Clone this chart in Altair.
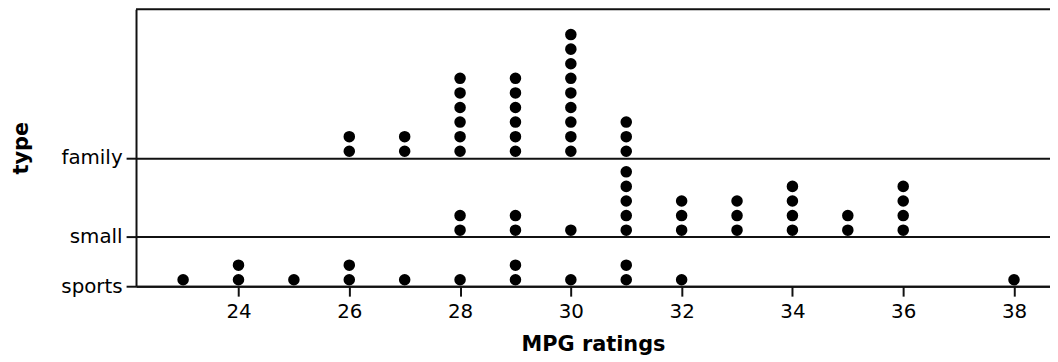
import altair as alt
import pandas as pd

# MPG ratings per car type (one entry per dot)
family_mpg = [26, 26, 27, 27, 28, 28, 28, 28, 28, 28, 29, 29, 29, 29, 29, 29,
              30, 30, 30, 30, 30, 30, 30, 30, 30, 31, 31, 31]
small_mpg = [28, 28, 29, 29, 30, 31, 31, 31, 31, 31, 32, 32, 32, 33, 33, 33,
             34, 34, 34, 34, 35, 35, 36, 36, 36, 36]
sports_mpg = [23, 24, 24, 25, 26, 26, 27, 28, 29, 29, 30, 31, 31, 32, 38]

types = ["family", "small", "sports"]
x_ticks = [24, 26, 28, 30, 32, 34, 36, 38]

# layout of the stacked rows (in y-scale units)
baseline = {"sports": 0, "small": 50, "family": 129.5}
first_offset = 6.5
step = 14.7

rows = []
for t, vals in zip(types, [family_mpg, small_mpg, sports_mpg]):
    for v in vals:
        rows.append({"type": t, "mpg": v})
df = pd.DataFrame(rows)
df["level"] = df.groupby(["type", "mpg"]).cumcount()
df["ypos"] = df["type"].map(baseline) + first_offset + step * df["level"]

W, H = 921, 279
FONT = "DejaVu Sans"

label_expr = "datum.value == 0 ? 'sports' : (datum.value == 50 ? 'small' : 'family')"

dots = alt.Chart(df).mark_circle(size=135, color="black", opacity=1).encode(
    x=alt.X("mpg:Q",
            scale=alt.Scale(domain=[22.15, 38.65], nice=False, zero=False),
            axis=alt.Axis(values=x_ticks, title="MPG ratings", grid=False,
                          tickSize=10, labelPadding=6, titlePadding=12)),
    y=alt.Y("ypos:Q",
            scale=alt.Scale(domain=[0, H], nice=False, zero=False),
            axis=alt.Axis(values=[0, 50, 129.5], labelExpr=label_expr,
                          title="type", grid=True, gridColor="#111",
                          gridWidth=2, gridOpacity=1, tickSize=10,
                          labelPadding=4, titlePadding=30)),
)

top = alt.Chart(pd.DataFrame({"a": [0]})).mark_rule(color="#111", strokeWidth=2).encode(
    y=alt.value(0), x=alt.value(0), x2=alt.value(W)
)

chart = alt.layer(dots, top).properties(
    width=W, height=H,
    autosize=alt.AutoSizeParams(type="none"),
    padding={"left": 129, "top": 0, "right": 0, "bottom": 74},
).configure_view(stroke=None).configure_axis(
    domainColor="#111", domainWidth=2, tickColor="#111", tickWidth=2,
    labelColor="black", titleColor="black", labelFont=FONT, titleFont=FONT,
    labelFontSize=20, titleFontSize=21, titleFontWeight="bold",
)

chart.save("out.html", embed_options={"renderer": "svg", "actions": False})
